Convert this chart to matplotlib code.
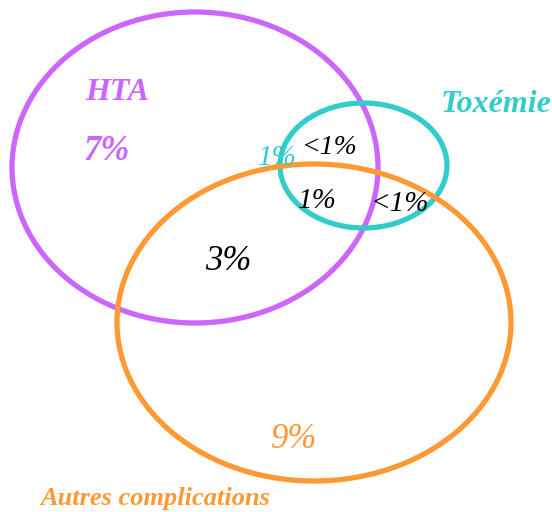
import matplotlib.pyplot as plt
from matplotlib.patches import Ellipse

# Sets of the Venn diagram (center x, center y, width, height in pixel units)
set_names = ['HTA', 'Toxémie', 'Autres complications']
set_colors = ['#CC66FF', '#33CCCC', '#FF9933']
set_centers = [(195, 167.5), (363.5, 165.5), (314, 322.5)]
set_sizes = [(366, 311), (167, 125), (394, 317)]

# Region percentages
region_labels = ['7%', '1%', '<1%', '1%', '<1%', '3%', '9%']
region_pos = [(107, 151), (277, 158), (330, 147), (317, 201), (400, 204), (228, 261), (294, 440)]
region_colors = ['#CC66FF', '#33CCCC', 'black', 'black', 'black', 'black', '#FF9933']
region_bold = [True, False, False, False, False, False, False]
region_fs = [25, 21, 20, 21, 21, 25, 25]

name_pos = [(117, 92), (496, 105), (155, 499)]
name_fs = [23, 23, 19]

plt.rcParams['font.family'] = ['Liberation Serif', 'DejaVu Serif']

fig = plt.figure(figsize=(5.52, 5.12), dpi=100)
ax = fig.add_axes([0, 0, 1, 1])
ax.set_xlim(0, 552)
ax.set_ylim(512, 0)
ax.set_aspect('equal')
ax.axis('off')

for c, s, col in zip(set_centers, set_sizes, set_colors):
    ax.add_patch(Ellipse(c, s[0], s[1], fill=False, edgecolor=col, linewidth=3.8))

for name, p, col, fs in zip(set_names, name_pos, set_colors, name_fs):
    ax.text(p[0], p[1], name, color=col, fontsize=fs, fontstyle='italic',
            fontweight='bold', ha='center', va='center')

for lab, p, col, b, fs in zip(region_labels, region_pos, region_colors, region_bold, region_fs):
    ax.text(p[0], p[1], lab, color=col, fontsize=fs, fontstyle='italic',
            fontweight='bold' if b else 'normal', ha='center', va='center')

plt.savefig('out.png', dpi=100)
